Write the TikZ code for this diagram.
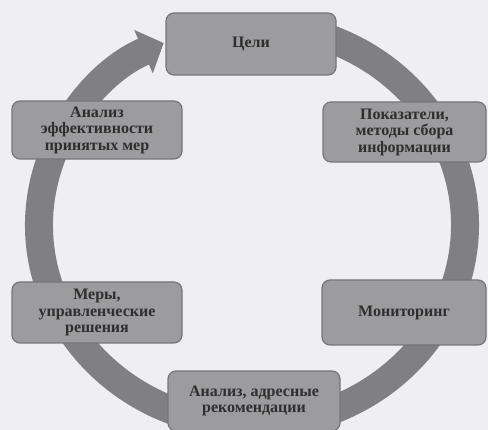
\documentclass[tikz,border=0pt]{standalone}
\usepackage{fontspec}
\setmainfont{Liberation Serif}
\usetikzlibrary{arrows.meta,calc}
\definecolor{paper}{HTML}{EFEFF1}
\definecolor{boxgray}{HTML}{9C9C9E}
\definecolor{boxline}{HTML}{767678}
\definecolor{ringgray}{HTML}{808082}
\definecolor{ink}{HTML}{2E2E2E}
\tikzset{
	stage/.style={draw=boxline, line width=1.2pt, fill=boxgray, rounded corners=8pt,
		minimum width=170pt, minimum height=60pt, inner sep=2pt, align=center,
		text=ink, font=\fontsize{16}{16.5}\selectfont\bfseries},
	ring/.style={draw=ringgray, line width=28pt,
		-{Triangle[width=46pt,length=22pt,fill=ringgray]}}
}
\begin{document}
\begin{tikzpicture}[x=1pt, y=1pt]
	\fill[paper] (0,0) rectangle (488,430);
	\useasboundingbox (0,0) rectangle (488,430);
	% the cycle behind the boxes
	\coordinate (hub) at (252,205);
	\coordinate (ringstart) at ($(hub)+(80:213 and 200)$);
	\draw[ring] (ringstart) arc[start angle=80, end angle=-245.5, x radius=213, y radius=200];
	% stages
	\node[stage, minimum height=62pt] (goals) at (251,386) {Цели};
	\node[stage, minimum width=163pt] (indic) at (404.5,298) {Показатели,\\методы сбора\\информации};
	\node[stage, minimum width=164pt, minimum height=65pt] (monit) at (404,117.5) {Мониторинг};
	\node[stage, minimum width=172pt] (recom) at (254,29) {Анализ, адресные\\рекомендации};
	\node[stage, minimum height=61pt] (meas) at (97,117.5) {Меры,\\управленческие\\решения};
	\node[stage, minimum height=58pt] (effect) at (97,300) {Анализ\\эффективности\\принятых мер};
\end{tikzpicture}
\end{document}
